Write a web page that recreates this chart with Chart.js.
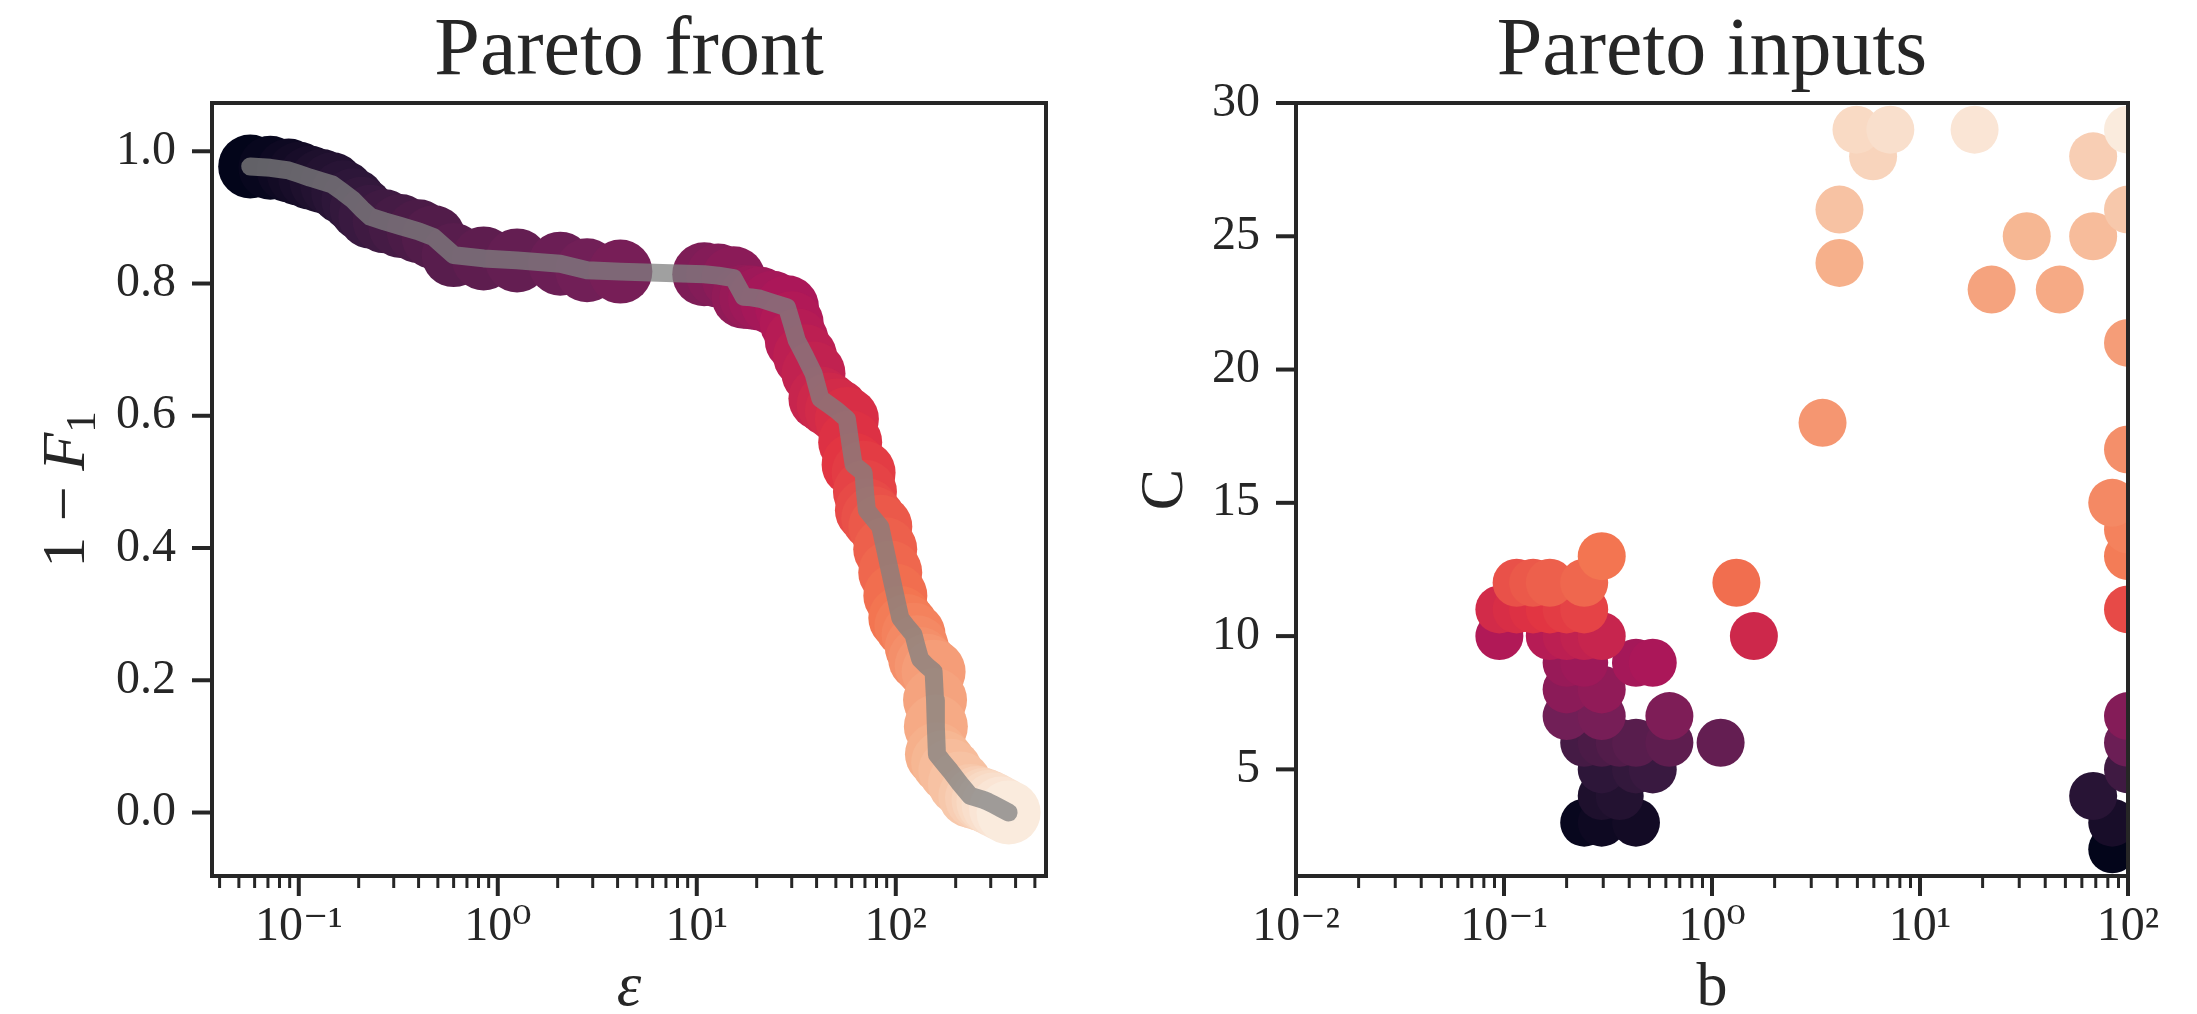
<!DOCTYPE html>
<html>
<head>
<meta charset="utf-8">
<script src="https://cdn.jsdelivr.net/npm/chart.js@4.4.1/dist/chart.umd.min.js"></script>
<style>
  html, body { margin: 0; padding: 0; background: #fff; }
  body { width: 2197px; height: 1014px; position: relative; overflow: hidden; }
  canvas { position: absolute; top: 0; }
  #front { left: 0; }
  #inputs { left: 1098px; }
</style>
</head>
<body>
<canvas id="front" width="1098" height="1014"></canvas>
<canvas id="inputs" width="1099" height="1014"></canvas>
<script>
// Pareto front: epsilon vs 1 - F1 (ordered along the front)
const frontEps = [
  0.057, 0.072, 0.089, 0.100, 0.114, 0.130, 0.147, 0.167, 0.188, 0.207, 0.229,
  0.270, 0.324, 0.400, 0.476, 0.600, 0.849, 1.25, 2.06, 2.81, 4.13,
  10.9, 12.8, 15.3, 17.2, 18.8, 20.8, 24.0, 28.4, 30.0,
  31.8, 35.0, 38.6, 41.8, 46.0, 50.6, 56.8, 59.0, 61.4,
  68.9, 70.0, 71.6, 77.0, 83.6, 88.5, 93.8, 99.5, 105.4, 113.0,
  122.8, 127.5, 132.6, 143.0, 154.9, 157.5, 159.0, 161.0, 173.0, 188.0,
  210.0, 237.0, 256.0, 276.0, 292.0, 310.0, 338.0, 369.0
];
const frontErr = [
  0.977, 0.975, 0.971, 0.966, 0.960, 0.955, 0.950, 0.938, 0.926, 0.913, 0.901,
  0.894, 0.887, 0.879, 0.870, 0.843, 0.838, 0.835, 0.830, 0.820, 0.818,
  0.814, 0.812, 0.808, 0.780, 0.779, 0.777, 0.771, 0.764, 0.740,
  0.714, 0.690, 0.664, 0.626, 0.617, 0.608, 0.595, 0.560, 0.526,
  0.514, 0.485, 0.457, 0.445, 0.432, 0.398, 0.363, 0.328, 0.294, 0.282,
  0.269, 0.250, 0.232, 0.222, 0.213, 0.170, 0.130, 0.088, 0.076, 0.063,
  0.044, 0.025, 0.022, 0.019, 0.016, 0.012, 0.006, 0.000
];

// Pareto inputs: b vs C, same ordering as the front
const inputB = [
  84, 0.243, 0.295, 0.431, 84, 0.295, 0.36, 68,
  0.295, 0.431, 0.519, 100,
  0.243, 0.295, 0.36, 0.431, 0.624, 1.1, 100,
  0.2, 0.295, 0.624, 100,
  0.2, 0.295,
  0.2, 0.243, 0.431, 0.519,
  0.095, 0.166, 0.2, 0.243, 0.295, 1.59,
  0.095, 0.115, 0.138, 0.166, 0.2, 0.243, 100,
  0.115, 0.138, 0.166, 0.243, 1.31,
  0.295, 100, 100, 84, 100, 3.4, 100,
  22.1, 47, 4.1, 32.6, 68, 4.1, 100, 68, 5.95, 4.95, 7.2, 18.3, 100
];
const inputC = [
  2, 3, 3, 3, 3, 4, 4, 4,
  5, 5, 5, 5,
  6, 6, 6, 6, 6, 6, 6,
  7, 7, 7, 7,
  8, 8,
  9, 9, 9, 9,
  10, 10, 10, 10, 10, 10,
  11, 11, 11, 11, 11, 11, 11,
  12, 12, 12, 12, 12,
  13, 13, 14, 15, 17, 18, 21,
  23, 23, 24, 25, 25, 26, 26, 28, 28, 29, 29, 29, 29
];

const frontXTicks = [0.1, 1, 10, 100];
const frontYTicks = [0, 0.2, 0.4, 0.6, 0.8, 1.0];
const inputXTicks = [0.01, 0.1, 1, 10, 100];
const inputYTicks = [5, 10, 15, 20, 25, 30];

const ink = '#262626';
const serif = '"Liberation Serif", "DejaVu Serif", serif';

// seaborn "rocket" colormap, sampled stops
const rocket = ['#03051a', '#35193e', '#701f57', '#ad1759', '#e13342', '#f37651', '#f6b48f', '#faebdd'];
const hexRgb = h => [1, 3, 5].map(i => parseInt(h.slice(i, i + 2), 16));
function rocketColor(t) {
  const s = t * (rocket.length - 1);
  const i = Math.min(Math.floor(s), rocket.length - 2);
  const f = s - i;
  const a = hexRgb(rocket[i]), b = hexRgb(rocket[i + 1]);
  return 'rgb(' + a.map((v, k) => Math.round(v + (b[k] - v) * f)).join(',') + ')';
}
const colorsFor = n => Array.from({length: n}, (_, i) => rocketColor(i / (n - 1)));

const sup = {'-': '\u207B', '0': '\u2070', '1': '\u00B9', '2': '\u00B2', '3': '\u00B3'};
const powLabel = v => '10' + String(Math.round(Math.log10(v))).split('').map(c => sup[c]).join('');

// spines + outward ticks (major and log minor), drawn over the data
const frame = {
  id: 'frame',
  afterDraw(chart) {
    const {ctx, chartArea: a, scales: {x, y}} = chart;
    const seg = (x1, y1, x2, y2) => { ctx.beginPath(); ctx.moveTo(x1, y1); ctx.lineTo(x2, y2); ctx.stroke(); };
    ctx.save();
    ctx.strokeStyle = ink;
    ctx.lineWidth = 3;
    const lo = Math.floor(Math.log10(x.min)), hi = Math.ceil(Math.log10(x.max));
    for (let k = lo; k < hi; k++) {
      for (let m = 2; m < 10; m++) {
        const v = m * Math.pow(10, k);
        if (v < x.min || v > x.max) continue;
        const px = x.getPixelForValue(v);
        seg(px, a.bottom, px, a.bottom + 12);
      }
    }
    ctx.lineWidth = 4;
    x.ticks.forEach(t => { const px = x.getPixelForValue(t.value); seg(px, a.bottom, px, a.bottom + 20); });
    y.ticks.forEach(t => { const py = y.getPixelForValue(t.value); seg(a.left - 20, py, a.left, py); });
    ctx.strokeRect(a.left, a.top, a.right - a.left, a.bottom - a.top);
    ctx.restore();
  }
};

// "1 − F₁" with italic F and subscript
const frontYLabel = {
  id: 'frontYLabel',
  afterDraw(chart) {
    const {ctx, chartArea: a} = chart;
    const size = 62;
    const parts = [
      {text: '1 \u2212 ', font: size + 'px ' + serif, dy: 0},
      {text: 'F', font: 'italic ' + size + 'px ' + serif, dy: 0},
      {text: '1', font: Math.round(size * 0.7) + 'px ' + serif, dy: size * 0.18}
    ];
    ctx.save();
    let w = 0;
    parts.forEach(p => { ctx.font = p.font; p.w = ctx.measureText(p.text).width; w += p.w; });
    ctx.translate(84, (a.top + a.bottom) / 2);
    ctx.rotate(-Math.PI / 2);
    ctx.fillStyle = ink;
    ctx.textBaseline = 'alphabetic';
    let cx = -w / 2;
    parts.forEach(p => { ctx.font = p.font; ctx.fillText(p.text, cx, p.dy); cx += p.w; });
    ctx.restore();
  }
};

const tickFont = {family: serif, size: 48};
const titleOpts = text => ({
  display: true, text, fullSize: false, color: ink,
  font: {family: serif, size: 82, weight: 'normal', lineHeight: 1.2},
  padding: {top: 3, bottom: 1.6}
});
const noGrid = {display: false, drawTicks: false};

const frontPts = frontEps.map((e, i) => ({x: e, y: frontErr[i]}));
new Chart(document.getElementById('front'), {
  type: 'scatter',
  data: {
    datasets: [
      {
        data: frontPts, showLine: true, borderColor: 'rgba(128,128,128,0.75)', borderWidth: 18,
        borderCapStyle: 'round', borderJoinStyle: 'round', pointRadius: 0, pointHoverRadius: 0
      },
      {
        data: frontPts, pointRadius: 32, pointHoverRadius: 32, pointBorderWidth: 0,
        pointBackgroundColor: colorsFor(frontPts.length)
      }
    ]
  },
  options: {
    responsive: false, animation: false, events: [],
    layout: {padding: {left: 0, right: 52, top: 0, bottom: 0}},
    plugins: {legend: {display: false}, tooltip: {enabled: false}, title: titleOpts('Pareto front')},
    scales: {
      x: {
        type: 'logarithmic', min: 0.03664, max: 568.7, bounds: 'data',
        afterFit: s => { s.height = 138; },
        afterBuildTicks: s => { s.ticks = frontXTicks.map(v => ({value: v})); },
        grid: noGrid, border: {display: false},
        ticks: {autoSkip: false, maxRotation: 0, padding: 23, color: ink, font: tickFont, callback: v => powLabel(v)},
        title: {display: true, text: '\u03B5', color: ink, padding: 0,
                font: {family: serif, size: 62, style: 'italic', lineHeight: 0.8}}
      },
      y: {
        type: 'linear', min: -0.096, max: 1.073, bounds: 'data',
        afterFit: s => { s.width = 212; },
        afterBuildTicks: s => { s.ticks = frontYTicks.map(v => ({value: v})); },
        grid: noGrid, border: {display: false},
        ticks: {autoSkip: false, padding: 36, color: ink, font: tickFont, callback: v => v.toFixed(1)}
      }
    }
  },
  plugins: [frame, frontYLabel]
});

const inputPts = inputB.map((b, i) => ({x: b, y: inputC[i]}));
new Chart(document.getElementById('inputs'), {
  type: 'scatter',
  data: {
    datasets: [{
      data: inputPts, pointRadius: 24, pointHoverRadius: 24, pointBorderWidth: 0, clip: 0,
      pointBackgroundColor: colorsFor(inputPts.length)
    }]
  },
  options: {
    responsive: false, animation: false, events: [],
    layout: {padding: {left: 0, right: 69, top: 0, bottom: 0}},
    plugins: {legend: {display: false}, tooltip: {enabled: false}, title: titleOpts('Pareto inputs')},
    scales: {
      x: {
        type: 'logarithmic', min: 0.01, max: 100, bounds: 'data',
        afterFit: s => { s.height = 138; },
        afterBuildTicks: s => { s.ticks = inputXTicks.map(v => ({value: v})); },
        grid: noGrid, border: {display: false},
        ticks: {autoSkip: false, maxRotation: 0, padding: 23, color: ink, font: tickFont, callback: v => powLabel(v)},
        title: {display: true, text: 'b', color: ink, padding: 0,
                font: {family: serif, size: 62, lineHeight: 0.8}}
      },
      y: {
        type: 'linear', min: 1, max: 30, bounds: 'data',
        afterFit: s => { s.width = 198; },
        afterBuildTicks: s => { s.ticks = inputYTicks.map(v => ({value: v})); },
        grid: noGrid, border: {display: false},
        ticks: {autoSkip: false, padding: 36, color: ink, font: tickFont},
        title: {display: true, text: 'C', color: ink, padding: {top: 31, bottom: 0},
                font: {family: serif, size: 62, lineHeight: 1.2}}
      }
    }
  },
  plugins: [frame]
});
</script>
</body>
</html>
